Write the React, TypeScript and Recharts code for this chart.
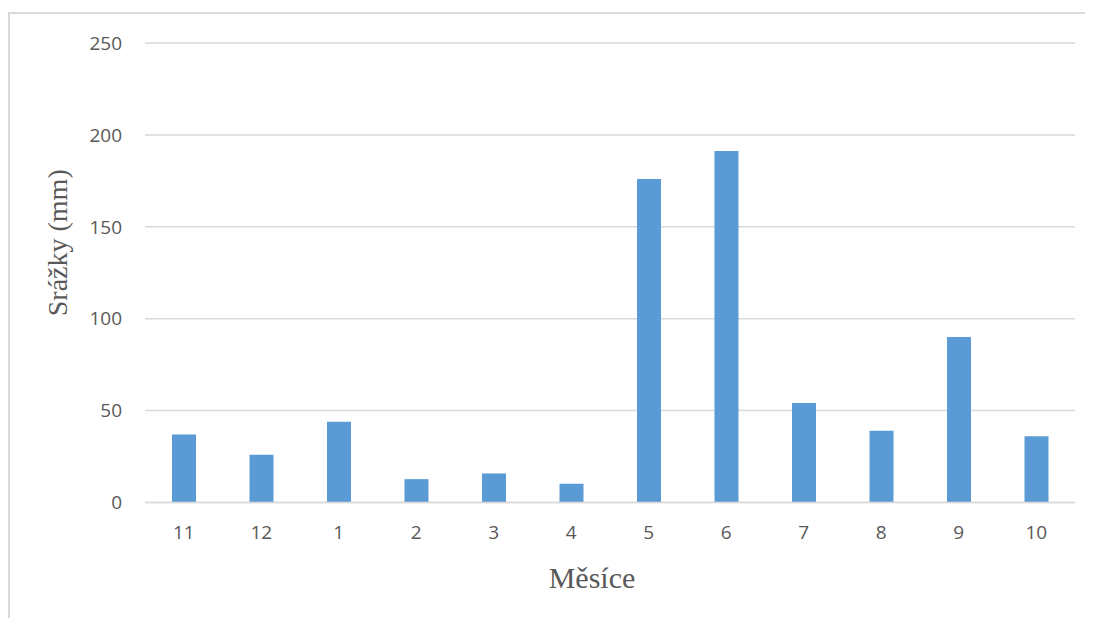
import { Bar, BarChart, CartesianGrid, Label, XAxis, YAxis } from 'recharts'

const months = ['11', '12', '1', '2', '3', '4', '5', '6', '7', '8', '9', '10']
const rainfall = [37, 26, 44, 12.7, 15.8, 10.2, 176, 191.2, 54.2, 39, 90.1, 36]
const yTicks = [0, 50, 100, 150, 200, 250]

const data = months.map((m, i) => ({ month: m, value: rainfall[i] }))

const TEXT = '#595959'
const GRID = '#d9d9d9'
const BAR = '#5b9bd5'

export default function App() {
  return (
    <div style={{ position: 'relative', width: 1085, height: 610 }}>
      <div
        style={{
          position: 'absolute',
          left: 0,
          top: 4,
          width: 1085,
          height: 606,
          borderTop: `2px solid ${GRID}`,
          borderLeft: `2px solid ${GRID}`,
        }}
      />
      <BarChart
        width={1085}
        height={610}
        data={data}
        margin={{ top: 35, right: 18, bottom: 0, left: 0 }}
        style={{ position: 'relative' }}
      >
        <CartesianGrid vertical={false} stroke={GRID} strokeWidth={1.5} />
        <XAxis
          dataKey="month"
          height={115.5}
          axisLine={{ stroke: GRID, strokeWidth: 1.5 }}
          tickLine={false}
          tickSize={0}
          tickMargin={23}
          tick={{ fill: TEXT, fontSize: 19, fontFamily: 'Open Sans' }}
        >
          <Label
            value="Měsíce"
            position="insideBottom"
            offset={30}
            dx={-18}
            fill={TEXT}
            fontSize={30}
            fontFamily="Liberation Serif"
          />
        </XAxis>
        <YAxis
          width={137}
          domain={[0, 250]}
          ticks={yTicks}
          axisLine={false}
          tickLine={false}
          tickSize={0}
          tickMargin={23}
          tick={{ fill: TEXT, fontSize: 19, fontFamily: 'Open Sans' }}
        >
          <Label
            content={({ viewBox }: any) => {
              const cx = 49
              const cy = viewBox.y + viewBox.height / 2 - 30
              return (
                <text
                  x={cx}
                  y={cy}
                  transform={`rotate(-90 ${cx} ${cy})`}
                  textAnchor="middle"
                  dominantBaseline="central"
                  fill={TEXT}
                  fontSize={28}
                  fontFamily="Liberation Serif"
                >
                  Srážky (mm)
                </text>
              )
            }}
          />
        </YAxis>
        <Bar dataKey="value" fill={BAR} barSize={24} isAnimationActive={false} />
      </BarChart>
    </div>
  )
}
